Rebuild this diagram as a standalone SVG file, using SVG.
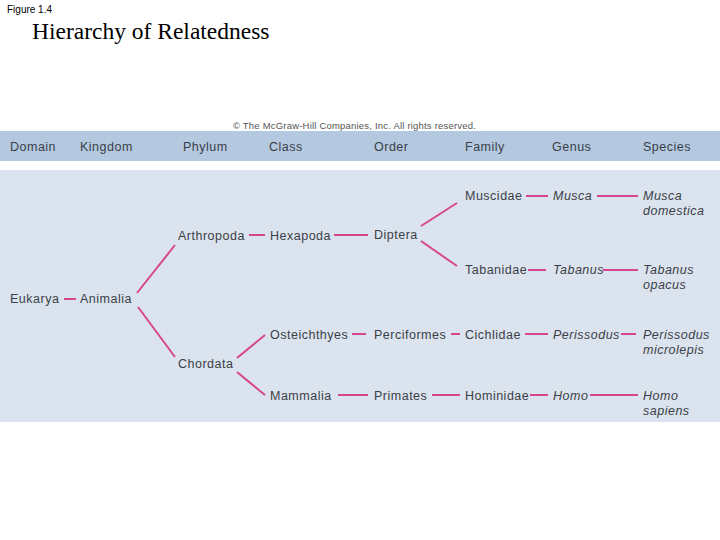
<svg xmlns="http://www.w3.org/2000/svg" width="720" height="540" viewBox="0 0 720 540">
<style>
text{font-family:"Liberation Sans",Arial,sans-serif;font-size:12.5px;fill:#3a3f48;letter-spacing:0.5px}
.h{fill:#3e4a5c}
.i{font-style:italic}
#connectors line{stroke:#d6468e;stroke-width:2}
</style>
<rect width="720" height="540" fill="#fff"/>
<text x="7" y="13" style="font-size:10px;fill:#000;letter-spacing:0">Figure 1.4</text>
<text x="32" y="39" style="font-family:'Liberation Serif',serif;font-size:23.5px;fill:#000;letter-spacing:0">Hierarchy of Relatedness</text>
<text x="233" y="129" style="font-size:9.5px;fill:#555;letter-spacing:0.2px">© The McGraw-Hill Companies, Inc. All rights reserved.</text>
<rect x="0" y="131" width="720" height="30" fill="#b4c8e0"/>
<rect x="0" y="170" width="720" height="252" fill="#dbe3ee"/>
<g id="header" class="h">
<text x="10" y="151">Domain</text><text x="80" y="151">Kingdom</text><text x="183" y="151">Phylum</text><text x="269" y="151">Class</text><text x="374" y="151">Order</text><text x="465" y="151">Family</text><text x="552" y="151">Genus</text><text x="643" y="151">Species</text>
</g>
<g id="connectors">
<line x1="64" y1="299" x2="76" y2="299"/>
<line x1="137" y1="293" x2="175" y2="245"/>
<line x1="138" y1="307" x2="175" y2="357"/>
<line x1="249" y1="235" x2="265" y2="235"/>
<line x1="334" y1="235" x2="368" y2="235"/>
<line x1="421" y1="226" x2="457" y2="203"/>
<line x1="421" y1="241" x2="457" y2="266"/>
<line x1="526" y1="196" x2="548" y2="196"/>
<line x1="597" y1="196" x2="638" y2="196"/>
<line x1="528" y1="270" x2="546" y2="270"/>
<line x1="603" y1="270" x2="638" y2="270"/>
<line x1="237" y1="358" x2="265" y2="335"/>
<line x1="237" y1="372" x2="265" y2="395"/>
<line x1="352" y1="334" x2="366" y2="334"/>
<line x1="451" y1="334" x2="460" y2="334"/>
<line x1="525" y1="334" x2="548" y2="334"/>
<line x1="621" y1="334" x2="636" y2="334"/>
<line x1="338" y1="395" x2="368" y2="395"/>
<line x1="432" y1="395" x2="460" y2="395"/>
<line x1="530" y1="395" x2="548" y2="395"/>
<line x1="590" y1="395" x2="638" y2="395"/>
</g>
<g id="eukarya"><text x="10" y="303">Eukarya</text></g>
<g id="animalia"><text x="80" y="303">Animalia</text></g>
<g id="arthropoda"><text x="178" y="240">Arthropoda</text></g>
<g id="chordata"><text x="178" y="368">Chordata</text></g>
<g id="hexapoda"><text x="270" y="240">Hexapoda</text></g>
<g id="osteichthyes"><text x="270" y="339">Osteichthyes</text></g>
<g id="mammalia"><text x="270" y="400">Mammalia</text></g>
<g id="diptera"><text x="374" y="239">Diptera</text></g>
<g id="perciformes"><text x="374" y="339">Perciformes</text></g>
<g id="primates"><text x="374" y="400">Primates</text></g>
<g id="muscidae"><text x="465" y="200">Muscidae</text></g>
<g id="tabanidae"><text x="465" y="274">Tabanidae</text></g>
<g id="cichlidae"><text x="465" y="339">Cichlidae</text></g>
<g id="hominidae"><text x="465" y="400">Hominidae</text></g>
<g id="musca"><text class="i" x="553" y="200">Musca</text></g>
<g id="tabanus"><text class="i" x="553" y="274">Tabanus</text></g>
<g id="perissodus"><text class="i" x="553" y="339">Perissodus</text></g>
<g id="homo"><text class="i" x="553" y="400">Homo</text></g>
<g id="musca-domestica"><text class="i" x="643" y="200">Musca</text><text class="i" x="643" y="215">domestica</text></g>
<g id="tabanus-opacus"><text class="i" x="643" y="274">Tabanus</text><text class="i" x="643" y="289">opacus</text></g>
<g id="perissodus-microlepis"><text class="i" x="643" y="339">Perissodus</text><text class="i" x="643" y="354">microlepis</text></g>
<g id="homo-sapiens"><text class="i" x="643" y="400">Homo</text><text class="i" x="643" y="415">sapiens</text></g>
</svg>
